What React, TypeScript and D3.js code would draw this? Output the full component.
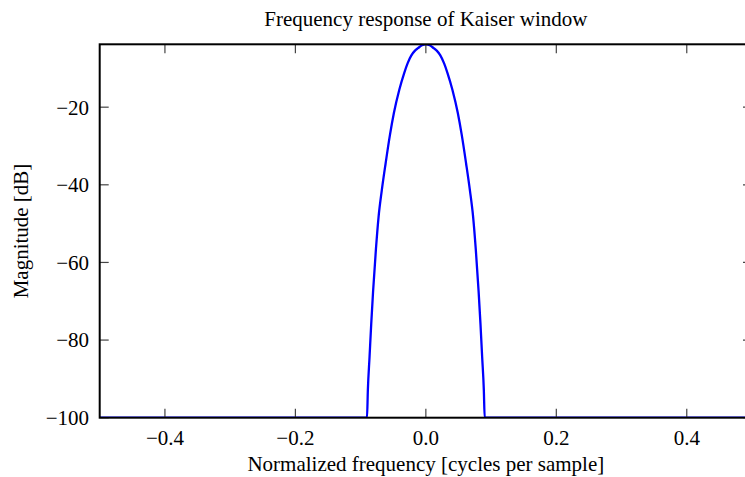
import React from "react";
import * as d3 from "d3";

const freq = [
  -0.5, -0.0902, -0.0889, -0.0863, -0.0837, -0.0809, -0.0765, -0.0725, -0.0676, -0.0617,
  -0.0549, -0.049, -0.0407, -0.0332, -0.028, -0.0222, -0.017, -0.0121, -0.006, 0,
  0.006, 0.0121, 0.017, 0.0222, 0.028, 0.0332, 0.0407, 0.049, 0.0549, 0.0617, 0.0676, 0.0725, 0.0765,
  0.0809, 0.0837, 0.0863, 0.0889, 0.0902, 0.5,
];
const magnitude = [
  -100, -100, -92.9, -84.3, -75.7, -67.5, -56.5, -48.3, -41.5, -34.5,
  -27.0, -21.5, -15.5, -11.2, -8.7, -6.65, -5.5, -4.8, -4.05, -3.8,
  -4.05, -4.8, -5.5, -6.65, -8.7, -11.2, -15.5, -21.5, -27.0, -34.5, -41.5, -48.3, -56.5,
  -67.5, -75.7, -84.3, -92.9, -100, -100,
];
const xTicks = [-0.4, -0.2, 0.0, 0.2, 0.4];
const yTicks = [-20, -40, -60, -80, -100];
const title = "Frequency response of Kaiser window";
const xLabel = "Normalized frequency [cycles per sample]";
const yLabel = "Magnitude [dB]";

const W = 745;
const H = 477;
const L = 99.7;
const R = 752;
const T = 44.3;
const B = 417.7;
const FONT = "'Liberation Serif', 'Times New Roman', serif";
const TICK = 9;

const fmt = (v: number) => {
  const s = Math.abs(v) < 1e-9 ? "0.0" : Number.isInteger(v) ? String(Math.abs(v)) : Math.abs(v).toFixed(1);
  return (v < -1e-9 ? "\u2212" : "") + s;
};

export default function App() {
  const x = d3.scaleLinear().domain([-0.5, 0.5]).range([L, R]);
  const y = d3.scaleLinear().domain([-100, -3.8]).range([B, T]);
  const data = freq.map((f, i) => [f, magnitude[i]] as [number, number]);
  const line = d3
    .line<[number, number]>()
    .x((d) => x(d[0]))
    .y((d) => y(d[1]))
    .curve(d3.curveMonotoneX);

  return (
    <svg
      width={W}
      height={H}
      style={{ position: "absolute", left: 0, top: 0, background: "#fff" }}
      fontFamily={FONT}
    >
      <defs>
        <clipPath id="plot">
          <rect x={L} y={T} width={R - L} height={B - T} />
        </clipPath>
      </defs>
      <path
        d={line(data) || ""}
        fill="none"
        stroke="#0000ff"
        strokeWidth={2.3}
        clipPath="url(#plot)"
        strokeLinejoin="round"
      />
      {xTicks.map((t) => (
        <g key={"x" + t}>
          <line x1={x(t)} x2={x(t)} y1={B} y2={B - TICK} stroke="#444" strokeWidth={1.2} />
          <line x1={x(t)} x2={x(t)} y1={T} y2={T + TICK} stroke="#444" strokeWidth={1.2} />
          <text x={x(t)} y={445} textAnchor="middle" fontSize={21} fill="#000">
            {fmt(t)}
          </text>
        </g>
      ))}
      {yTicks.map((t) => (
        <g key={"y" + t}>
          <line x1={L} x2={L + TICK} y1={y(t)} y2={y(t)} stroke="#444" strokeWidth={1.2} />
          <line x1={R} x2={R - TICK} y1={y(t)} y2={y(t)} stroke="#444" strokeWidth={1.2} />
          <text x={89} y={y(t)} dy="0.35em" textAnchor="end" fontSize={21} fill="#000">
            {fmt(t)}
          </text>
        </g>
      ))}
      <rect x={L} y={T} width={R - L} height={B - T} fill="none" stroke="#000" strokeWidth={2} />
      <text x={(L + R) / 2} y={26} textAnchor="middle" fontSize={21} fill="#000">
        {title}
      </text>
      <text x={(L + R) / 2} y={471} textAnchor="middle" fontSize={21} fill="#000">
        {xLabel}
      </text>
      <text
        transform={`translate(28, ${(T + B) / 2}) rotate(-90)`}
        textAnchor="middle"
        fontSize={21}
        fill="#000"
      >
        {yLabel}
      </text>
    </svg>
  );
}
